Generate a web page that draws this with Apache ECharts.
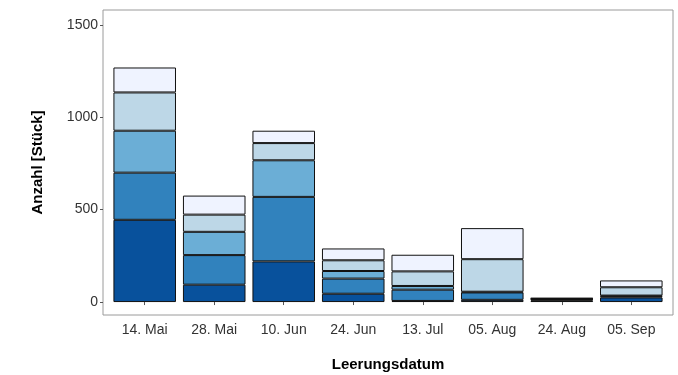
<!DOCTYPE html>
<html>
<head>
<meta charset="utf-8">
<script src="https://cdn.jsdelivr.net/npm/echarts@6/dist/echarts.min.js"></script>
<style>
  html, body { margin: 0; padding: 0; background: #fff; }
  #chart { width: 678px; height: 375px; }
</style>
</head>
<body>
<div id="chart"></div>
<script>
// Emptying dates (x) and stacked counts per class (bottom to top)
const dates = ['14. Mai', '28. Mai', '10. Jun', '24. Jun', '13. Jul', '05. Aug', '24. Aug', '05. Sep'];
const class1 = [445, 94, 220, 45, 6, 12, 8, 25];
const class2 = [255, 160, 349, 82, 61, 40, 5, 6];
const class3 = [227, 126, 198, 41, 20, 4, 3, 4];
const class4 = [207, 93, 93, 58, 79, 176, 3, 45];
const class5 = [135, 103, 67, 64, 90, 168, 3, 37];
const yTicks = [0, 500, 1000, 1500];

const classes = [class1, class2, class3, class4, class5];
const classNames = ['Klasse 1', 'Klasse 2', 'Klasse 3', 'Klasse 4', 'Klasse 5'];
const colors = ['#08519C', '#3182BD', '#6BAED6', '#BDD7E7', '#EFF3FF'];

const W = 678;
// Outer panel (framed) and the inner band area, inset by 0.1 category on each side
const panel = { left: 103, right: 5, top: 10, bottom: 60 };
const band = (W - panel.left - panel.right) / (dates.length + 0.2);
const inset = band * 0.1;

const chart = echarts.init(document.getElementById('chart'), null, { renderer: 'canvas' });

const series = classes.map((vals, k) => ({
  name: classNames[k],
  type: 'bar',
  stack: 'total',
  xAxisIndex: 0,
  yAxisIndex: 0,
  barCategoryGap: '10%',
  data: vals,
  itemStyle: { color: colors[k], borderColor: '#111', borderWidth: 1 },
  emphasis: { disabled: true }
}));

const titleFont = { fontFamily: 'Liberation Sans', fontSize: 15, fontWeight: 'bold', color: '#000' };
const tickFont = { fontFamily: 'Liberation Sans', fontSize: 14, color: '#333' };

chart.setOption({
  animation: false,
  backgroundColor: '#fff',
  grid: [
    { left: panel.left + inset, right: panel.right + inset, top: panel.top, bottom: panel.bottom, outerBoundsMode: 'none', containLabel: false },
    Object.assign({ show: true, borderColor: '#9a9a9a', borderWidth: 1, backgroundColor: 'transparent', outerBoundsMode: 'none', containLabel: false }, panel)
  ],
  xAxis: [
    {
      type: 'category',
      gridIndex: 0,
      data: dates,
      boundaryGap: true,
      name: 'Leerungsdatum',
      nameLocation: 'middle',
      nameGap: 42,
      nameTextStyle: titleFont,
      axisLine: { show: false },
      splitLine: { show: false },
      axisTick: { show: true, length: 3, alignWithLabel: true, lineStyle: { color: '#555' } },
      axisLabel: Object.assign({ margin: 8, interval: 0 }, tickFont)
    },
    { type: 'value', gridIndex: 1, show: false }
  ],
  yAxis: [
    {
      type: 'value',
      gridIndex: 0,
      min: -70,
      max: 1580,
      offset: inset,
      name: 'Anzahl [Stück]',
      nameLocation: 'middle',
      nameGap: 58,
      nameTextStyle: titleFont,
      axisLine: { show: false },
      splitLine: { show: false },
      axisTick: { show: true, length: 3, customValues: yTicks, lineStyle: { color: '#555' } },
      axisLabel: Object.assign({ customValues: yTicks, margin: 5, formatter: v => String(v) }, tickFont)
    },
    { type: 'value', gridIndex: 1, show: false }
  ],
  series: series
});
</script>
</body>
</html>
